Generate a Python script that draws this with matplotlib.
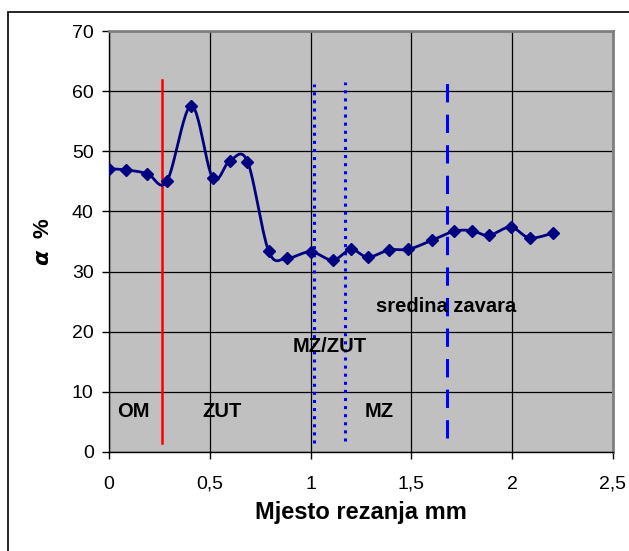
import numpy as np
import matplotlib
matplotlib.use("Agg")
import matplotlib.pyplot as plt
from matplotlib.patches import Rectangle

plt.rcParams["font.family"] = ["Liberation Sans", "DejaVu Sans"]

# mjesto rezanja (mm) i udio alfa faze (%)
mjesto = [0.0, 0.086, 0.19, 0.287, 0.408, 0.514, 0.599, 0.687, 0.792, 0.882,
          1.0, 1.11, 1.20, 1.284, 1.389, 1.485, 1.602, 1.712, 1.80, 1.883,
          1.992, 2.086, 2.203]
alfa = [47.1, 46.9, 46.3, 45.0, 57.6, 45.6, 48.4, 48.3, 33.4, 32.2,
        33.3, 31.9, 33.7, 32.4, 33.6, 33.7, 35.2, 36.7, 36.8, 36.0,
        37.4, 35.6, 36.4]

# granice zona
granice_x = [0.261, 1.017, 1.172, 1.678]
granice_od = [1.5, 1.5, 1.8, 2.3]
granice_do = [61.8, 61.2, 61.6, 61.6]
granice_boja = ["#FF0000", "#0000FF", "#0000FF", "#0000FF"]
granice_stil = ["-", ":", ":", (0, (6, 4))]
granice_sirina = [1.8, 2.2, 2.2, 2.2]

natpisi = ["OM", "ZUT", "MZ", "MZ/ZUT", "sredina zavara"]
natpisi_x = [0.121, 0.563, 1.34, 1.095, 1.674]
natpisi_y = [6.8, 6.8, 6.8, 17.5, 24.2]

x_ticks = [0, 0.5, 1, 1.5, 2, 2.5]
x_tick_labels = ["0", "0,5", "1", "1,5", "2", "2,5"]
y_ticks = [0, 10, 20, 30, 40, 50, 60, 70]

fig = plt.figure(figsize=(6.29, 5.51), dpi=100)
fig.patches.append(Rectangle((8 / 629, -0.01), 1.0, 1 - 12 / 551 + 0.01,
                             transform=fig.transFigure, fill=False, edgecolor="black",
                             linewidth=1.2))

ax = fig.add_axes([109 / 629, 99 / 551, 504 / 629, 421 / 551])
ax.set_facecolor("#C0C0C0")
ax.set_xlim(0, 2.5)
ax.set_ylim(0, 70)

ax.grid(True, color="black", linewidth=0.9)
ax.set_axisbelow(True)

for s in ["top", "right"]:
    ax.spines[s].set_color("#808080")
    ax.spines[s].set_linewidth(2)
for s in ["left", "bottom"]:
    ax.spines[s].set_color("black")
    ax.spines[s].set_linewidth(1)

# glatka linija (Catmull-Rom, kao "smoothed line" u Excelu), racunata u pikselima
sx = 504 / 2.5
sy = 421 / 70.0
xx = np.array(mjesto) * sx
yy = np.array(alfa) * sy
px = np.concatenate([[xx[0]], xx, [xx[-1]]])
py = np.concatenate([[yy[0]], yy, [yy[-1]]])
kx, ky = [], []
for i in range(1, len(px) - 2):
    p0 = np.array([px[i - 1], py[i - 1]])
    p1 = np.array([px[i], py[i]])
    p2 = np.array([px[i + 1], py[i + 1]])
    p3 = np.array([px[i + 2], py[i + 2]])
    c1 = p1 + (p2 - p0) / 6.0
    c2 = p2 - (p3 - p1) / 6.0
    for tt in np.linspace(0, 1, 25, endpoint=False):
        b = (1 - tt) ** 3 * p1 + 3 * (1 - tt) ** 2 * tt * c1 + 3 * (1 - tt) * tt ** 2 * c2 + tt ** 3 * p2
        kx.append(b[0] / sx)
        ky.append(b[1] / sy)
kx.append(mjesto[-1])
ky.append(alfa[-1])

ax.plot(kx, ky, color="#000080", linewidth=2, zorder=4)
ax.plot(mjesto, alfa, linestyle="none", marker="D", markersize=6,
        color="#000080", zorder=5)

for x, y0, y1, c, ls, lw in zip(granice_x, granice_od, granice_do,
                               granice_boja, granice_stil, granice_sirina):
    ax.plot([x, x], [y0, y1], color=c, linestyle=ls, linewidth=lw, zorder=3)

for t, x, y in zip(natpisi, natpisi_x, natpisi_y):
    ax.text(x, y, t, ha="center", va="center", fontsize=14.5,
            fontweight="bold", zorder=6)

ax.set_xticks(x_ticks)
ax.set_xticklabels(x_tick_labels)
ax.set_yticks(y_ticks)
ax.tick_params(axis="both", direction="out", length=5, width=1,
               labelsize=14, colors="black")
ax.tick_params(axis="x", pad=12)
ax.tick_params(axis="y", pad=6)

ax.set_xlabel("Mjesto rezanja mm", fontsize=17, fontweight="bold", labelpad=6)
ax.set_ylabel(r"$\boldsymbol{\alpha}$  %", fontsize=16, fontweight="bold", labelpad=13)

fig.savefig("out.png", dpi=100)
